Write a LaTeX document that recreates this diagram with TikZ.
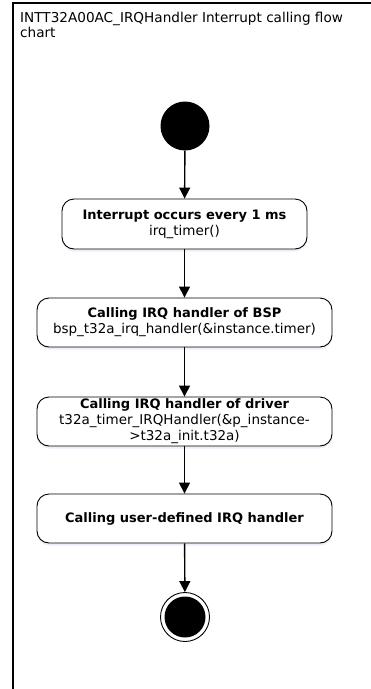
\documentclass[tikz,border=0pt]{standalone}
\usepackage{fontspec}
\setmainfont{DejaVu Sans}
\usepackage{tikz}
\usetikzlibrary{arrows.meta,shapes,shadows}

\begin{document}
\begin{tikzpicture}[x=1pt,y=1pt]
    \tikzstyle{every node}+=[inner sep=0pt]
    \tikzstyle{stepbox}=[draw=black, line width=0.9pt, rounded corners=12pt, fill=white,
        align=center, font=\fontsize{13.5}{16}\selectfont,
        drop shadow={fill=cyan!30!blue!20, opacity=0.35, shadow xshift=0pt, shadow yshift=-2.5pt}]
    \tikzstyle{flow}=[line width=1.4pt, -{Triangle[width=11pt,length=11pt]}]
    \newcommand{\head}[1]{{\fontsize{13}{16}\selectfont\bfseries #1}}
    \useasboundingbox (0,0) rectangle (371,-689);
    % frame and title
    \draw [line width=1.4pt] (13,-689) -- (13,-3) -- (371,-3);
    \node (title) [anchor=north west, align=left, font=\fontsize{13.6}{15}\selectfont] at (20,-12)
        {INTT32A00AC\_IRQHandler Interrupt calling flow\\chart};
    % start and end
    \node (start) [circle, fill=black, minimum size=49pt] at (185,-126) {};
    \node (stop) [circle, draw=black, line width=0.9pt, fill=white, minimum size=49pt] at (185,-617) {};
    \fill [black] (stop.center) circle (20.5);
    % steps
    \node (irq) [stepbox, minimum width=245pt, minimum height=50pt] at (184.5,-224)
        {\head{Interrupt occurs every 1 ms}\\irq\_timer()};
    \node (bsp) [stepbox, minimum width=295pt, minimum height=49pt] at (184.5,-322.5)
        {\head{Calling IRQ handler of BSP}\\bsp\_t32a\_irq\_handler(\&instance.timer)};
    \node (drv) [stepbox, minimum width=295pt, minimum height=49pt] at (184.5,-421.5)
        {\head{Calling IRQ handler of driver}\\t32a\_timer\_IRQHandler(\&p\_instance-\\>t32a\_init.t32a)};
    \node (usr) [stepbox, minimum width=295pt, minimum height=49pt] at (184.5,-518.5)
        {\head{Calling user-defined IRQ handler}};
    % connectors
    \draw [flow] (start) -- (irq);
    \draw [flow] (irq) -- (bsp);
    \draw [flow] (bsp) -- (drv);
    \draw [flow] (drv) -- (usr);
    \draw [flow] (usr) -- (stop);
\end{tikzpicture}
\end{document}
